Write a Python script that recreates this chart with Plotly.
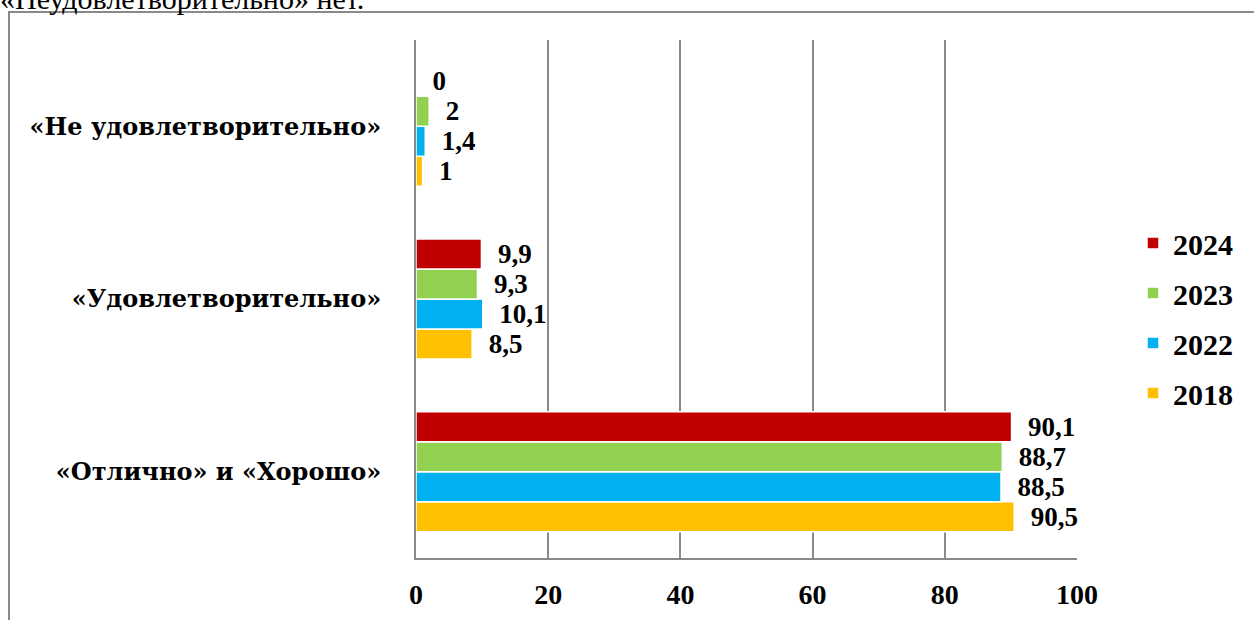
import plotly.graph_objects as go

categories = ["«Отлично» и «Хорошо»", "«Удовлетворительно»", "«Не удовлетворительно»"]
years = ["2018", "2022", "2023", "2024"]
values_2018 = [90.5, 8.5, 1]
values_2022 = [88.5, 10.1, 1.4]
values_2023 = [88.7, 9.3, 2]
values_2024 = [90.1, 9.9, 0]
colors = {"2018": "#FFC000", "2022": "#00B0F0", "2023": "#92D050", "2024": "#C00000"}
legend_rank = {"2024": 1, "2023": 2, "2022": 3, "2018": 4}
x_ticks = [0, 20, 40, 60, 80, 100]
top_text = "«Неудовлетворительно» нет."

series = {"2018": values_2018, "2022": values_2022, "2023": values_2023, "2024": values_2024}

W, H = 1254, 620
L, R, T, B = 416, 1077, 40, 558
NUM_FONT = "Liberation Serif"
CAT_FONT = "DejaVu Serif"


def fmt(v):
    s = ("%g" % v).replace(".", ",")
    return "\u00a0\u00a0" + s


def px_x(px):
    return (px - L) / (R - L)


def px_y(py):
    return (B - py) / (B - T)


fig = go.Figure()
for y in years:
    fig.add_trace(go.Bar(
        y=categories, x=series[y], orientation="h", name=y,
        marker=dict(color=colors[y], line=dict(color="white", width=1.5)),
        text=[fmt(v) for v in series[y]], textposition="outside",
        textfont=dict(family=NUM_FONT, size=27, color="black", weight="bold"),
        cliponaxis=False, constraintext="none",
        legendgroup=y, legendrank=legend_rank[y],
    ))

fig.update_layout(
    template="none",
    width=W, height=H,
    margin=dict(l=L, r=W - R, t=T, b=H - B, pad=0, autoexpand=False),
    paper_bgcolor="white", plot_bgcolor="white",
    barmode="group", bargap=0.305, bargroupgap=0,
    font=dict(family=NUM_FONT, size=24, color="black", weight="bold"),
    showlegend=True,
    legend=dict(
        x=px_x(1133), y=px_y(318), xanchor="left", yanchor="middle",
        traceorder="grouped", tracegroupgap=8,
        font=dict(family=NUM_FONT, size=30, color="black", weight="bold"),
        bgcolor="rgba(0,0,0,0)", borderwidth=0,
    ),
    xaxis=dict(
        range=[0, 100], tickvals=x_ticks, showgrid=True, gridcolor="#8a8a8a", gridwidth=2,
        showline=True, linecolor="#8a8a8a", linewidth=2, zeroline=False,
        ticks="", ticklabelstandoff=10, automargin=False,
        tickfont=dict(family=NUM_FONT, size=28, color="black", weight="bold"),
    ),
    yaxis=dict(
        showline=True, linecolor="#8a8a8a", linewidth=2, showgrid=False, zeroline=False,
        ticks="", ticklabelstandoff=28, automargin=False,
        tickfont=dict(family=CAT_FONT, size=24, color="black", weight="bold"),
    ),
)

# outer frame of the embedded chart
fig.add_shape(type="rect", xref="paper", yref="paper",
              x0=px_x(9), x1=px_x(1262), y0=px_y(628), y1=px_y(12),
              line=dict(color="#8a8a8a", width=2), fillcolor="rgba(0,0,0,0)", layer="below")

fig.add_annotation(text=top_text, xref="paper", yref="paper", x=px_x(-2), y=px_y(17),
                   xanchor="left", yanchor="bottom", showarrow=False,
                   font=dict(family=NUM_FONT, size=30, color="black", weight="normal"))

fig.write_html("out.html", config={"displayModeBar": False},
               post_script="document.body.style.margin='0';")
